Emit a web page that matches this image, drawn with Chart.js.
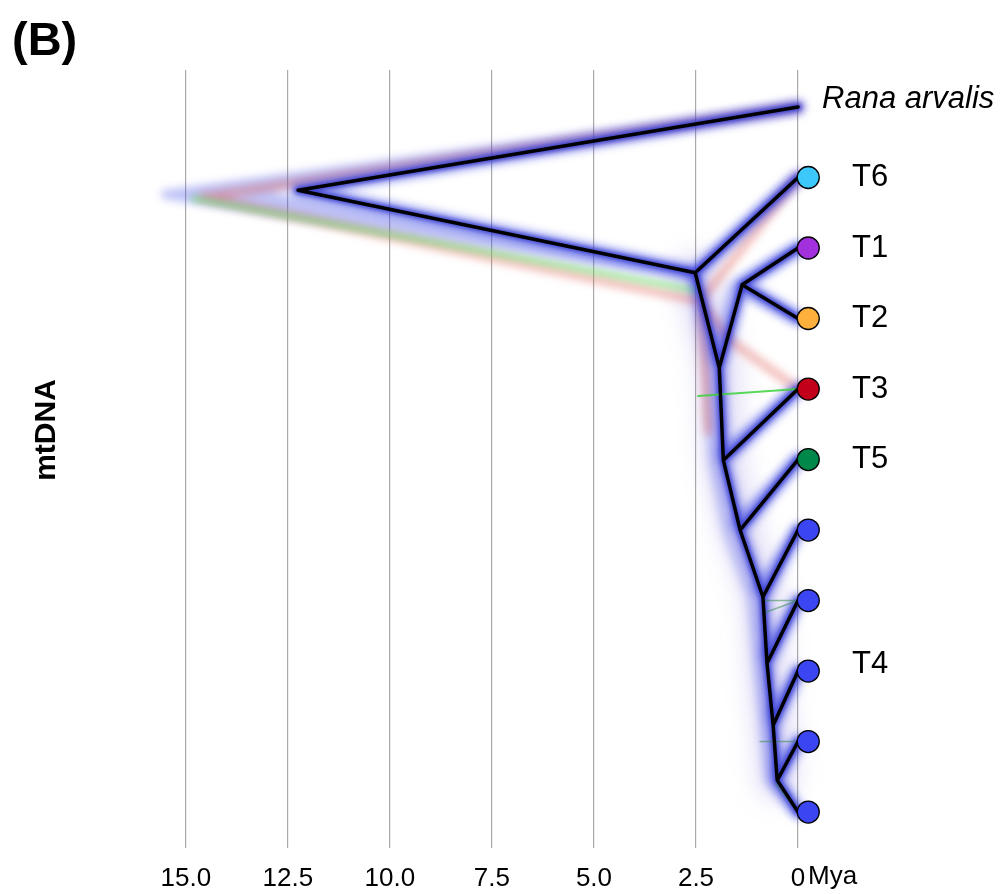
<!DOCTYPE html>
<html>
<head>
<meta charset="utf-8">
<script src="https://cdn.jsdelivr.net/npm/chart.js@4.4.1/dist/chart.umd.min.js"></script>
<style>
  body { margin: 0; background: #fff; }
  #wrap { width: 1003px; height: 894px; position: relative; }
</style>
</head>
<body>
<div id="wrap"><canvas id="treeChart"></canvas></div>
<script>
// time axis (Mya)
const tickValues = [15, 12.5, 10, 7.5, 5, 2.5, 0];
const tickLabels = ["15.0", "12.5", "10.0", "7.5", "5.0", "2.5", "0"];
const axisUnit = "Mya";

// tips (top to bottom)
const tipLabels = ["Rana arvalis", "T6", "T1", "T2", "T3", "T5", "", "", "", "", ""];
const tipPos = [0, 1, 2, 3, 4, 5, 6, 7, 8, 9, 10];
const tipColors = [null, "#3cc8fa", "#a230dc", "#ffb03c", "#c20019", "#00874a",
  "#3b45f2", "#3b45f2", "#3b45f2", "#3b45f2", "#3b45f2"];
const groupLabel = "T4";
const groupPos = 7.9;

// consensus tree internal nodes
const nodeAges = [12.25, 2.52, 1.37, 1.93, 1.83, 1.42, 0.86, 0.76, 0.61, 0.51];
const nodePos = [1.18, 2.35, 2.52, 3.70, 5.01, 6.0, 6.95, 7.89, 8.77, 9.55];
// edges: [parent node, child] ; child "t#" = tip, otherwise node index
const treeEdges = [
  [0, "t0"], [0, 1], [1, "t1"], [1, 3], [3, 2], [2, "t2"], [2, "t3"],
  [3, 4], [4, "t4"], [4, 5], [5, "t5"], [5, 6], [6, "t6"], [6, 7],
  [7, "t7"], [7, 8], [8, "t8"], [8, 9], [9, "t9"], [9, "t10"]
];
// backbone edges only (for the wide haze)
const backboneEdges = [[1, 3], [3, 4], [4, 5], [5, 6], [6, 7], [7, 8], [8, 9]];

// other posterior trees (age from, pos from, age to, pos to)
const blueRootEdges = [
  [15.5, 1.24, 0, 0], [15.5, 1.24, 2.6, 2.4],
  [14.6, 1.22, 0, 0], [14.6, 1.22, 2.58, 2.39],
  [13.6, 1.2, 0, 0], [13.6, 1.2, 2.55, 2.37]
];
const blueAltEdges = [
  [2.6, 2.4, 0, 1], [2.6, 2.4, 2.2, 3.75],
  [2.2, 3.75, 1.6, 2.55], [1.6, 2.55, 0, 2], [1.6, 2.55, 0, 3],
  [2.2, 3.75, 2.1, 5.0], [2.1, 5.0, 0, 4], [2.1, 5.0, 1.75, 6.0],
  [1.75, 6.0, 0, 5], [1.75, 6.0, 1.15, 6.95], [1.15, 6.95, 0, 6],
  [1.15, 6.95, 1.0, 7.9], [1.0, 7.9, 0, 7], [1.0, 7.9, 0.85, 8.77],
  [0.85, 8.77, 0, 8], [0.85, 8.77, 0.72, 9.55], [0.72, 9.55, 0, 9], [0.72, 9.55, 0, 10]
];
const redAltEdges = [
  [14.6, 1.28, 0, 0], [14.6, 1.28, 2.4, 2.75],
  [2.4, 2.75, 0, 1], [2.35, 2.9, 2.2, 4.6],
  [2.4, 2.75, 1.7, 3.3], [1.7, 3.3, 0, 4]
];
const greenAltEdges = [
  [14.8, 1.3, 2.5, 2.6]
];
const greenThinEdges = [
  [2.45, 4.1, 0, 4]
];
const greenFaintEdges = [
  [0.86, 7.18, 0, 7.0], [0.93, 9.0, 0, 9.0], [0.55, 9.6, 0, 10], [0.8, 7.0, 0, 7]
];

function tipOrNode(k) {
  if (typeof k === "string") return { x: 0, y: tipPos[+k.slice(1)] };
  return { x: nodeAges[k], y: nodePos[k] };
}
function edgePoints(list) {
  const pts = [];
  list.forEach(function (e) {
    pts.push(tipOrNode(e[0]), tipOrNode(e[1]), { x: null, y: null });
  });
  return pts;
}
function segPoints(list) {
  const pts = [];
  list.forEach(function (s) {
    pts.push({ x: s[0], y: s[1] }, { x: s[2], y: s[3] }, { x: null, y: null });
  });
  return pts;
}

const markerPoints = [];
const markerColors = [];
tipPos.forEach(function (p, i) {
  if (tipColors[i]) {
    markerPoints.push({ x: -0.25, y: p });
    markerColors.push(tipColors[i]);
  }
});

function lineSet(data, color, width, blur, order) {
  return {
    data: data,
    showLine: true,
    borderColor: color,
    borderWidth: width,
    borderCapStyle: "round",
    borderJoinStyle: "round",
    pointRadius: 0,
    spanGaps: false,
    blur: blur,
    order: order,
  };
}

const blurPlugin = {
  id: "blurPlugin",
  beforeDatasetDraw(chart, args) {
    const ds = chart.data.datasets[args.index];
    if (ds.blur) {
      chart.ctx.save();
      chart.ctx.filter = "blur(" + ds.blur + "px)";
    }
  },
  afterDatasetDraw(chart, args) {
    const ds = chart.data.datasets[args.index];
    if (ds.blur) chart.ctx.restore();
  },
};

const textPlugin = {
  id: "textPlugin",
  afterDraw(chart) {
    const ctx = chart.ctx;
    const xs = chart.scales.x;
    const ys = chart.scales.y;
    const x0 = xs.getPixelForValue(0);
    ctx.save();
    ctx.fillStyle = "#000";
    // panel letter
    ctx.font = "bold 47px 'Liberation Sans', Arial, sans-serif";
    ctx.textAlign = "left";
    ctx.textBaseline = "alphabetic";
    ctx.fillText("(B)", 12, 55);
    // side label
    ctx.save();
    ctx.translate(55, 430);
    ctx.rotate(-Math.PI / 2);
    ctx.font = "bold 30px 'Liberation Sans', Arial, sans-serif";
    ctx.textAlign = "center";
    ctx.fillText("mtDNA", 0, 0);
    ctx.restore();
    // tip labels
    ctx.textBaseline = "middle";
    tipLabels.forEach(function (lab, i) {
      if (!lab) return;
      if (i === 0) {
        ctx.font = "italic 31px 'Liberation Sans', Arial, sans-serif";
        ctx.fillText(lab, x0 + 24, ys.getPixelForValue(tipPos[i]) - 8);
      } else {
        ctx.font = "31px 'Liberation Sans', Arial, sans-serif";
        ctx.fillText(lab, x0 + 54, ys.getPixelForValue(tipPos[i]));
      }
    });
    ctx.font = "31px 'Liberation Sans', Arial, sans-serif";
    ctx.fillText(groupLabel, x0 + 54, ys.getPixelForValue(groupPos));
    // axis unit, next to the "0" tick label
    ctx.font = "26px 'Liberation Sans', Arial, sans-serif";
    ctx.fillText(axisUnit, x0 + 10, chart.chartArea.bottom + 29);
    ctx.restore();
  },
};

const ctx = document.getElementById("treeChart").getContext("2d");
const treeChart = new Chart(ctx, {
  type: "scatter",
  data: {
    datasets: [
      lineSet(edgePoints(backboneEdges), "rgba(110, 90, 210, 0.2)", 40, 12, 13),
      lineSet(segPoints(blueRootEdges), "rgba(70, 80, 230, 0.35)", 9, 4, 12),
      lineSet(segPoints(blueAltEdges), "rgba(70, 80, 230, 0.3)", 9, 5, 11),
      lineSet(segPoints(redAltEdges), "rgba(225, 95, 85, 0.45)", 8, 4, 10),
      lineSet(segPoints(greenAltEdges), "rgba(100, 225, 100, 0.5)", 7, 3, 9),
      lineSet(edgePoints(treeEdges), "rgba(55, 65, 225, 0.55)", 14, 4, 8),
      lineSet(edgePoints(treeEdges), "rgba(40, 45, 200, 0.75)", 7, 2, 7),
      lineSet(segPoints(greenFaintEdges), "rgba(60, 140, 80, 0.55)", 1.5, 0, 6),
      lineSet(segPoints(greenThinEdges), "rgba(60, 210, 60, 0.85)", 2, 0, 5),
      lineSet(edgePoints(treeEdges), "#000", 3.5, 0, 4),
      {
        data: markerPoints,
        showLine: false,
        pointRadius: 11,
        pointHoverRadius: 11,
        pointBackgroundColor: markerColors,
        pointBorderColor: "#000",
        pointBorderWidth: 1.3,
        order: 1,
      },
    ],
  },
  options: {
    responsive: true,
    maintainAspectRatio: false,
    animation: false,
    layout: { padding: { left: 145, right: 5, top: 70, bottom: 0 } },
    plugins: {
      legend: { display: false },
      tooltip: { enabled: false },
    },
    scales: {
      x: {
        type: "linear",
        min: -4.72,
        max: 16,
        reverse: true,
        afterBuildTicks: function (axis) {
          axis.ticks = tickValues.map(function (v) { return { value: v }; });
        },
        afterFit: function (axis) {
          axis.height = 46;
        },
        grid: { color: "#a9a9a9", lineWidth: 1.2, drawTicks: false },
        border: { display: false },
        ticks: {
          autoSkip: false,
          maxRotation: 0,
          padding: 15,
          color: "#000",
          font: { size: 26, family: "'Liberation Sans', Arial, sans-serif" },
          callback: function (value, index) {
            return tickLabels[index];
          },
        },
      },
      y: {
        type: "linear",
        min: -0.525,
        max: 10.51,
        reverse: true,
        display: false,
      },
    },
  },
  plugins: [blurPlugin, textPlugin],
});
</script>
</body>
</html>
